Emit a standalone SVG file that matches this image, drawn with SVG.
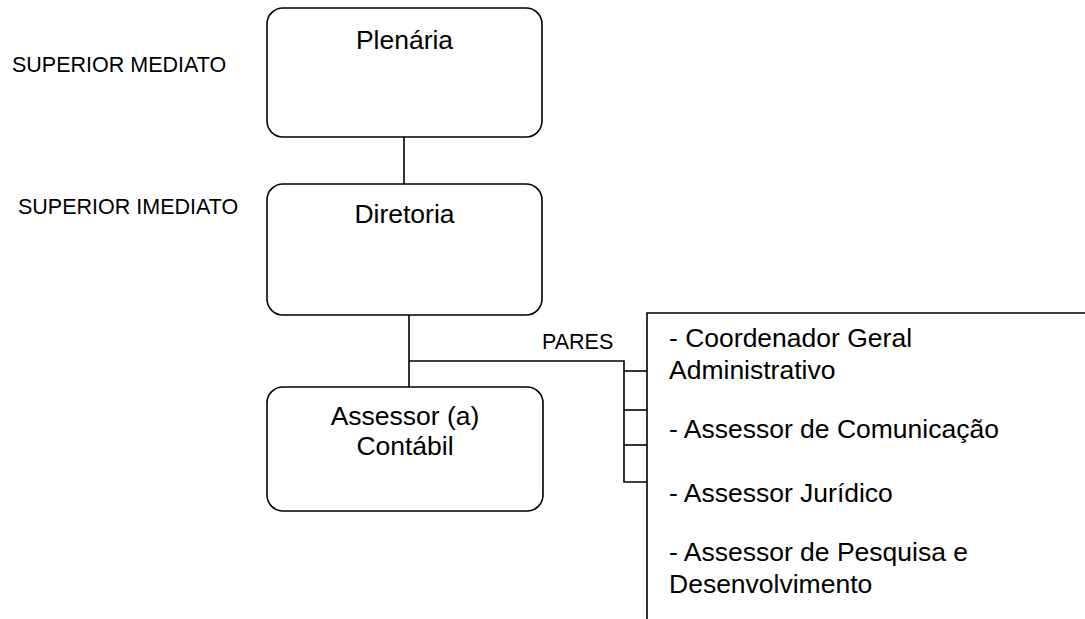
<svg xmlns="http://www.w3.org/2000/svg" width="1085" height="619" viewBox="0 0 1085 619">
<style>
.box{fill:#fff;stroke:#000;stroke-width:1.6}
.ln{fill:none;stroke:#000;stroke-width:1.6}
.t{font-family:"Liberation Sans",Arial,sans-serif;fill:#000}
.big{font-size:26.5px}
.sm{font-size:21.5px}
.c{text-anchor:middle}
</style>
<rect width="1085" height="619" fill="#fff"/>
<g id="connectors">
<line class="ln" x1="404" y1="137" x2="404" y2="184"/>
<line class="ln" x1="409" y1="315" x2="409" y2="387"/>
<polyline class="ln" points="409,361 624,361 624,482 647,482"/>
<line class="ln" x1="624" y1="371" x2="647" y2="371"/>
<line class="ln" x1="624" y1="410" x2="647" y2="410"/>
<line class="ln" x1="624" y1="445" x2="647" y2="445"/>
</g>
<g id="label-mediato"><text class="t sm" x="12" y="72">SUPERIOR MEDIATO</text></g>
<g id="label-imediato"><text class="t sm" x="18" y="214">SUPERIOR IMEDIATO</text></g>
<g id="label-pares"><text class="t sm" x="542" y="349">PARES</text></g>
<g id="plenaria">
<rect class="box" x="267" y="8" width="275" height="129" rx="16"/>
<text class="t big c" x="404.5" y="48.5">Plenária</text>
</g>
<g id="diretoria">
<rect class="box" x="267" y="184" width="275" height="131" rx="16"/>
<text class="t big c" x="404.5" y="223">Diretoria</text>
</g>
<g id="assessor-contabil">
<rect class="box" x="267" y="387" width="276" height="124" rx="16"/>
<text class="t big c" x="405" y="425">Assessor (a)</text>
<text class="t big c" x="405" y="455">Contábil</text>
</g>
<g id="pares-list">
<polyline class="ln" points="647,625 647,313 1090,313"/>
<text class="t big" x="669" y="347">- Coordenador Geral</text>
<text class="t big" x="669" y="379">Administrativo</text>
<text class="t big" x="669" y="438">- Assessor de Comunicação</text>
<text class="t big" x="669" y="502">- Assessor Jurídico</text>
<text class="t big" x="669" y="560.5">- Assessor de Pesquisa e</text>
<text class="t big" x="669" y="593">Desenvolvimento</text>
</g>
</svg>
